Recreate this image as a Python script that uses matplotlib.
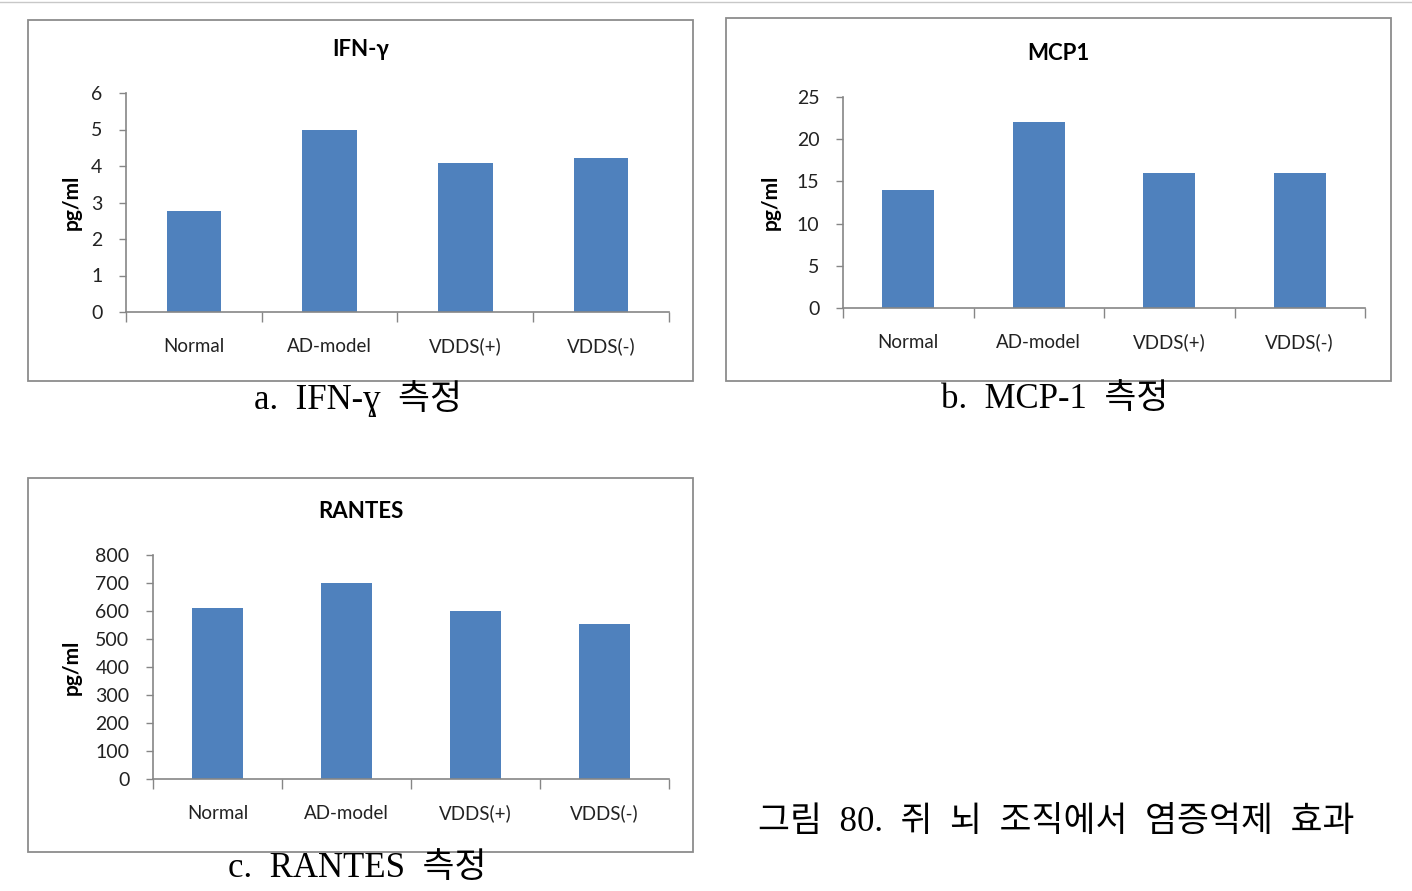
import matplotlib.pyplot as plt
from matplotlib.patches import Rectangle
from matplotlib.lines import Line2D

# Data
groups = ["Normal", "AD-model", "VDDS(+)", "VDDS(-)"]
ifn_values = [2.77, 5.0, 4.08, 4.22]
mcp1_values = [14.0, 22.0, 16.0, 16.0]
rantes_values = [612, 700, 600, 552]

W, H = 1412, 891
BAR_COLOR = "#4F81BD"
AXIS_COLOR = "#868686"
LABEL_FONT = ["Lato", "DejaVu Sans"]
CAPTION_FONT = ["Liberation Serif", "DejaVu Serif", "Noto Sans CJK KR"]

fig = plt.figure(figsize=(W / 100, H / 100), dpi=100)


def fx(x):
    return x / W


def fy(y):
    return 1 - y / H


def panel(box, axbox, values, ymax, ystep, title, title_y, ylabel_x):
    # box: frame around the chart, axbox: plot area (pixel coords)
    x0, y0, x1, y1 = box
    fig.patches.append(Rectangle((fx(x0), fy(y1)), fx(x1 - x0), (y1 - y0) / H,
                                 transform=fig.transFigure, fill=False,
                                 edgecolor="#8c8c8c", linewidth=1.3))
    l, t, r, b = axbox
    ax = fig.add_axes([fx(l), fy(b), fx(r - l), (b - t) / H])
    ax.bar(range(len(values)), values, width=0.4, color=BAR_COLOR, zorder=2)
    ax.set_xlim(-0.5, len(values) - 0.5)
    ax.set_ylim(0, ymax)
    ax.set_yticks(range(0, ymax + 1, ystep))
    ax.set_xticks(range(len(values)))
    ax.set_xticklabels(groups, fontsize=13.5, family=LABEL_FONT, color="#222222")
    for lab in ax.get_xticklabels():
        lab.set_va("baseline")
    ax.set_xticks([i - 0.5 for i in range(len(values) + 1)], minor=True)
    ax.tick_params(axis="x", which="major", length=0, pad=29)
    ax.tick_params(axis="x", which="minor", length=7, direction="out",
                   color=AXIS_COLOR, width=1)
    ax.tick_params(axis="y", length=5, direction="out", color=AXIS_COLOR,
                   width=1, pad=12, labelsize=14)
    for lab in ax.get_yticklabels():
        lab.set_family(LABEL_FONT)
        lab.set_color("#222222")
    for s in ("top", "right"):
        ax.spines[s].set_visible(False)
    for s in ("left", "bottom"):
        ax.spines[s].set_color(AXIS_COLOR)
        ax.spines[s].set_linewidth(1.2)
    cx = (x0 + x1) / 2
    fig.text(fx(cx), fy(title_y), title, ha="center", va="center",
             fontsize=16, fontweight="bold", family=LABEL_FONT)
    fig.text(fx(ylabel_x), fy((t + b) / 2), "pg/ml", ha="center", va="center",
             rotation=90, fontsize=15, fontweight="bold", family=LABEL_FONT)
    return ax


panel((28, 20, 693, 381), (126, 93, 669, 312), ifn_values, 6, 1, "IFN-γ", 50, 72)
panel((726, 18, 1391, 381), (843, 97, 1365, 308), mcp1_values, 25, 5, "MCP1", 53, 771)
panel((28, 478, 693, 852), (153, 555, 669, 779), rantes_values, 800, 100, "RANTES", 511, 72)

# thin rule along the top of the page
fig.lines.append(Line2D([0, 1], [fy(2), fy(2)], transform=fig.transFigure,
                        color="#c8c8c8", linewidth=1))

fig.text(fx(358), fy(399), "a.  IFN-ɣ  측정", ha="center", va="center",
         fontsize=25, family=CAPTION_FONT)
fig.text(fx(1055), fy(399), "b.  MCP-1  측정", ha="center", va="center",
         fontsize=25, family=CAPTION_FONT)
fig.text(fx(357), fy(869), "c.  RANTES  측정", ha="center", va="center",
         fontsize=25, family=CAPTION_FONT)
fig.text(fx(1056), fy(823), "그림  80.  쥐  뇌  조직에서  염증억제  효과", ha="center",
         va="center", fontsize=25, family=CAPTION_FONT)

fig.savefig("out.png", dpi=100)
